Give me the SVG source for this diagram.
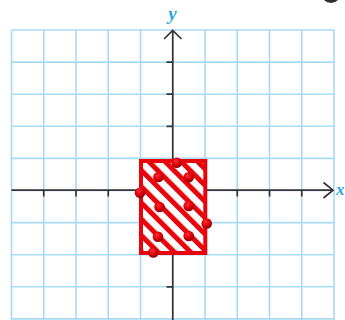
<svg xmlns="http://www.w3.org/2000/svg" width="345" height="320" viewBox="0 0 345 320">
  <style>
    .grid { stroke: #a9daf3; stroke-width: 1.6; fill: none; }
    .axis { stroke: #3b3333; stroke-width: 1.7; fill: none; }
    .lbl { font-family: "Liberation Serif", serif; font-style: italic; font-weight: bold; fill: #2aa6e0; }
    .dot { fill: url(#ball); }
  </style>
  <defs>
    <pattern id="hatch" patternUnits="userSpaceOnUse" width="11.5" height="11.5" patternTransform="rotate(-45)">
      <rect width="11.5" height="11.5" fill="#ffffff"/>
      <rect x="0" y="0" width="5" height="11.5" fill="#e8040c"/>
    </pattern>
    <radialGradient id="ball" cx="0.4" cy="0.35" r="0.65">
      <stop offset="0" stop-color="#ff3030"/>
      <stop offset="0.55" stop-color="#e00008"/>
      <stop offset="1" stop-color="#8a0006"/>
    </radialGradient>
  </defs>

  <circle cx="331" cy="-7" r="10" fill="#2f2b28"/>

  <g id="grid">
    <path class="grid" d="M11.5 30V320M43.75 30V320M76 30V320M108.25 30V320M140.5 30V320M172.75 30V320M205 30V320M237.25 30V320M269.5 30V320M301.75 30V320M334 30V320"/>
    <path class="grid" d="M11.5 30H334M11.5 62.1H334M11.5 94.2H334M11.5 126.3H334M11.5 158.4H334M11.5 190.5H334M11.5 222.6H334M11.5 254.7H334M11.5 286.8H334M11.5 318.9H334"/>
  </g>

  <g id="axes">
    <path class="axis" d="M11.5 190.2H333M323.5 182.5L333 190.2L323.5 198"/>
    <path class="axis" d="M172.75 320V31M164 39L172.75 30.5L181.5 39"/>
    <path class="axis" d="M43.75 190V196.5M76 190V196.5M108.25 190V196.5M237.25 190V196.5M269.5 190V196.5M301.75 190V196.5"/>
    <path class="axis" d="M166.5 62.1H172.75M166.5 94.2H172.75M166.5 126.3H172.75M166.5 222.6H172.75M166.5 286.8H172.75"/>
  </g>

  <g id="labels">
    <text class="lbl" x="172.5" y="20" font-size="19" text-anchor="middle">y</text>
    <text class="lbl" x="336" y="195" font-size="17">x</text>
  </g>

  <g id="region">
    <rect x="141" y="161" width="64.3" height="92" fill="url(#hatch)" stroke="#e8040c" stroke-width="4"/>
  </g>

  <g id="dots">
    <circle class="dot" cx="176.7" cy="162.7" r="5.3"/>
    <circle class="dot" cx="158.5" cy="177" r="5.3"/>
    <circle class="dot" cx="188.7" cy="177.3" r="5.3"/>
    <circle class="dot" cx="140" cy="192.7" r="5.3"/>
    <circle class="dot" cx="159.5" cy="207" r="5.3"/>
    <circle class="dot" cx="188.7" cy="206" r="5.3"/>
    <circle class="dot" cx="206.7" cy="223.5" r="5.3"/>
    <circle class="dot" cx="158" cy="236.7" r="5.3"/>
    <circle class="dot" cx="188.7" cy="236" r="5.3"/>
    <circle class="dot" cx="153.3" cy="252.5" r="5.3"/>
  </g>
</svg>
